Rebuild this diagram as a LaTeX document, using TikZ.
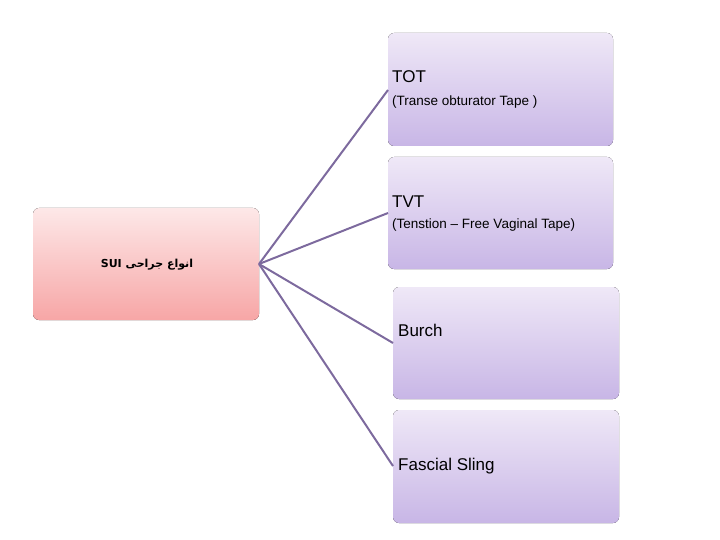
\documentclass[tikz,border=0pt]{standalone}
\usepackage{fontspec}
\setmainfont{Liberation Sans}
\newfontfamily\arabicfont[Script=Arabic]{DejaVu Sans}
\TeXXeTstate=1
\definecolor{ptop}{HTML}{EFE8F7}
\definecolor{pbot}{HTML}{C8B6E6}
\definecolor{rtop}{HTML}{FDE8E8}
\definecolor{rbot}{HTML}{F7A6A6}
\definecolor{lin}{HTML}{7D6A9E}
\begin{document}
\begin{tikzpicture}[x=1pt,y=-1pt,
  pbox/.style={rounded corners=6pt,top color=ptop,bottom color=pbot,draw=none},
  rbox/.style={rounded corners=6pt,top color=rtop,bottom color=rbot,draw=none},
  conn/.style={draw=lin,line width=2pt},
  lbl/.style={anchor=west,inner sep=0pt,font=\fontsize{17}{19}\selectfont},
  sub/.style={anchor=west,inner sep=0pt,font=\fontsize{13.5}{15}\selectfont}]
\useasboundingbox (0,0) rectangle (720,540);
\fill[rbox] (33,208) rectangle (259,320);
\fill[pbox] (388,33) rectangle (613,146);
\fill[pbox] (388,157) rectangle (613,269);
\fill[pbox] (393,287) rectangle (619,399);
\fill[pbox] (393,410) rectangle (619,523);
\coordinate (s) at (259,264);
\coordinate (t1) at (388,90);
\coordinate (t2) at (388,213);
\coordinate (t3) at (393,343);
\coordinate (t4) at (393,466);
\draw[conn] (s) -- (t1);
\draw[conn] (s) -- (t2);
\draw[conn] (s) -- (t3);
\draw[conn] (s) -- (t4);
\node[inner sep=0pt] (l) at (147,265) {\fontsize{11}{13}\selectfont\bfseries\arabicfont\beginR انواع جراحی \beginL SUI\endL\endR};
\node[lbl] (a1) at (392,77) {TOT};
\node[sub] (a2) at (392,102) {(Transe obturator Tape )};
\node[lbl] (b1) at (392,202) {TVT};
\node[sub] (b2) at (392,225) {(Tenstion – Free Vaginal Tape)};
\node[lbl] (c1) at (398,330) {Burch};
\node[lbl] (d1) at (398,466) {Fascial Sling};
\end{tikzpicture}
\end{document}
